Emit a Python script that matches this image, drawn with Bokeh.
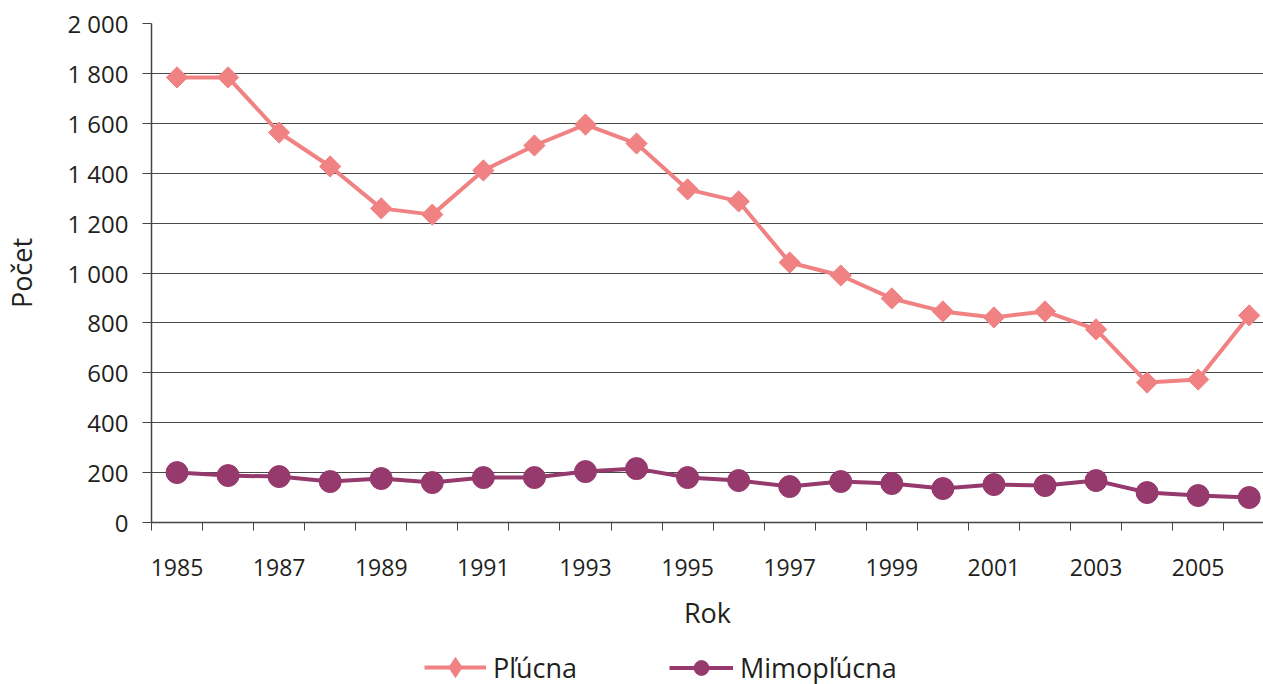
import math
from bokeh.plotting import figure
from bokeh.layouts import column
from bokeh.models import FixedTicker, Legend, LegendItem, ColumnDataSource, Range1d
from bokeh.embed import file_html
from bokeh.resources import INLINE

# ---- data ----
years = list(range(1985, 2007))
plucna = [1784, 1784, 1563, 1427, 1259, 1234, 1411, 1511, 1595, 1519, 1335,
          1287, 1042, 990, 898, 846, 822, 846, 774, 561, 573, 830]
mimoplucna = [200, 188, 184, 164, 176, 160, 180, 180, 204, 216, 180,
              168, 144, 164, 156, 136, 152, 148, 168, 120, 108, 100]
series_names = ["Pľúcna", "Mimopľúcna"]
y_ticks = [0, 200, 400, 600, 800, 1000, 1200, 1400, 1600, 1800, 2000]
y_tick_labels = ["0", "200", "400", "600", "800", "1 000", "1 200", "1 400",
                 "1 600", "1 800", "2 000"]
x_label_years = years[::2]
x_title = "Rok"
y_title = "Počet"

# ---- style ----
PINK = "#F08283"
PURPLE = "#96396D"
TEXT = "#231F20"
FONT = "Open Sans"
W = 1263

src = ColumnDataSource(dict(year=years, plucna=plucna, mimo=mimoplucna))

p = figure(width=W, height=634, output_backend="svg", toolbar_location=None,
           x_range=Range1d(years[0] - 0.5, years[-1] + 0.28),
           y_range=Range1d(y_ticks[0], y_ticks[-1]),
           min_border_left=150, min_border_right=0, min_border_top=23,
           min_border_bottom=112)
p.outline_line_color = None
p.background_fill_color = "white"
p.border_fill_color = "white"

p.xgrid.grid_line_color = None
p.ygrid.grid_line_color = "#4a4a4a"
p.ygrid.grid_line_width = 1

# y axis
ya = p.yaxis[0]
ya.ticker = FixedTicker(ticks=y_ticks)
ya.major_label_overrides = {t: l for t, l in zip(y_ticks, y_tick_labels)}
ya.major_tick_out = 9
ya.major_tick_in = 0
ya.minor_tick_out = 0
ya.minor_tick_in = 0
ya.major_tick_line_color = "#444444"
ya.axis_line_color = "#444444"
ya.axis_line_width = 1.5
ya.major_label_standoff = 14
ya.major_label_text_font = FONT
ya.major_label_text_font_size = "24px"
ya.major_label_text_color = TEXT
ya.axis_label = y_title
ya.axis_label_text_font = FONT
ya.axis_label_text_font_size = "27px"
ya.axis_label_text_font_style = "normal"
ya.axis_label_text_color = TEXT
ya.axis_label_standoff = 24

# x axis
xa = p.xaxis[0]
bounds = [y - 0.5 for y in years] + [years[-1] + 0.5]
xa.ticker = FixedTicker(ticks=x_label_years, minor_ticks=bounds)
xa.major_label_overrides = {y: str(y) for y in x_label_years}
xa.major_tick_out = 0
xa.major_tick_in = 0
xa.minor_tick_out = 8
xa.minor_tick_in = 0
xa.minor_tick_line_color = "#444444"
xa.axis_line_color = "#444444"
xa.axis_line_width = 1.5
xa.major_label_standoff = 28
xa.major_label_text_font = FONT
xa.major_label_text_font_size = "23px"
xa.major_label_text_color = TEXT
xa.axis_label = x_title
xa.axis_label_text_font = FONT
xa.axis_label_text_font_size = "27px"
xa.axis_label_text_font_style = "normal"
xa.axis_label_text_color = TEXT
xa.axis_label_standoff = 15

# series
p.line("year", "plucna", source=src, line_color=PINK, line_width=4)
p.scatter("year", "plucna", source=src, marker="square", angle=math.pi / 4,
          size=15, fill_color=PINK, line_color=PINK)
p.line("year", "mimo", source=src, line_color=PURPLE, line_width=4)
p.scatter("year", "mimo", source=src, marker="circle", size=22,
          fill_color=PURPLE, line_color=PURPLE)

# ---- legend strip (separate figure below, frame aligned with main frame) ----
pl = figure(width=W, height=50, output_backend="svg", toolbar_location=None,
            x_axis_location=None, y_axis_location=None,
            x_range=Range1d(0, 1), y_range=Range1d(0, 1),
            min_border_left=0, min_border_right=0, min_border_top=0,
            min_border_bottom=0)
pl.outline_line_color = None
pl.grid.grid_line_color = None

# legend-only glyphs (not data marks)
leg_src = ColumnDataSource(dict(x=[0.5], y=[float("nan")]))
ll1 = pl.line("x", "y", source=leg_src, line_color=PINK, line_width=4)
ld = pl.scatter("x", "y", source=leg_src, marker="diamond",
                fill_color=PINK, line_color=PINK)
ll2 = pl.line("x", "y", source=leg_src, line_color=PURPLE, line_width=4)
lc = pl.scatter("x", "y", source=leg_src, marker="circle",
                fill_color=PURPLE, line_color=PURPLE)


def make_legend(label, renderers, loc, gh, gw):
    return Legend(items=[LegendItem(label=label, renderers=renderers)],
                  location=loc, orientation="horizontal",
                  glyph_height=gh, glyph_width=gw, label_standoff=7,
                  padding=0, margin=0, spacing=0,
                  border_line_alpha=0, background_fill_alpha=0,
                  label_text_font=FONT, label_text_font_size="27px",
                  label_text_color=TEXT)


pl.add_layout(make_legend(series_names[0], [ll1, ld], (273, -8), 50, 62), "center")
pl.add_layout(make_legend(series_names[1], [ll2, lc], (518, -1.5), 37, 64), "center")

open("out.html", "w").write(file_html(column(p, pl, spacing=0), INLINE))
